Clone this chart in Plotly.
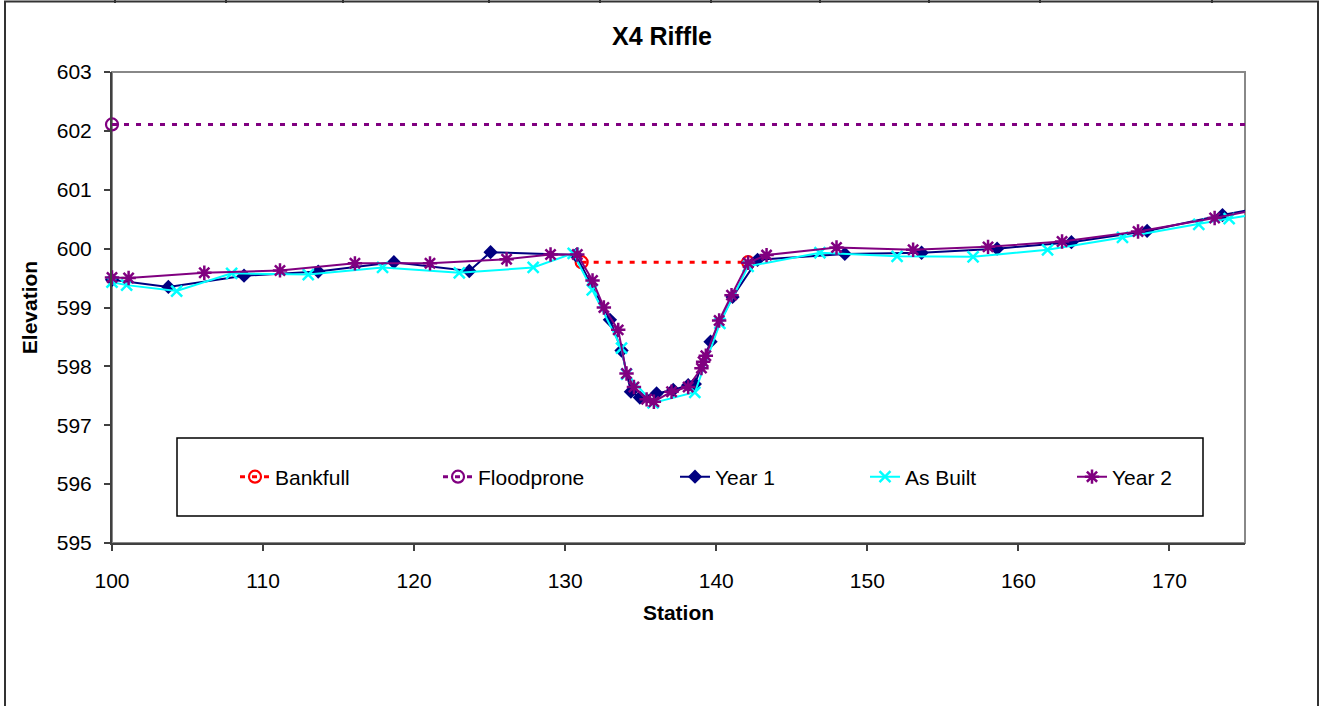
import plotly.graph_objects as go

# ---------------- data ----------------
bankfull_x = [131.09, 142.11]
bankfull_y = [599.77, 599.77]

floodprone_x = [100.0, 176.5]
floodprone_y = [602.11, 602.11]

year1_x = [100.0, 103.73, 108.74, 113.65, 118.66, 123.65, 125.06, 130.7, 132.96, 133.73,
           134.35, 134.94, 136.05, 137.15, 138.14, 138.58, 139.62, 141.08, 142.73, 148.51,
           153.59, 158.59, 163.51, 168.52, 173.51, 176.5]
year1_y = [599.47, 599.35, 599.54, 599.61, 599.77, 599.62, 599.94, 599.89, 598.79, 598.27,
           597.57, 597.47, 597.54, 597.60, 597.68, 597.70, 598.42, 599.18, 599.81, 599.91,
           599.93, 600.00, 600.11, 600.30, 600.57, 600.72]

asbuilt_x = [100.0, 100.97, 104.28, 107.92, 112.99, 117.91, 122.99, 127.88, 130.53, 131.79,
             133.73, 134.06, 135.82, 138.58, 140.24, 142.11, 146.86, 151.97, 157.0, 161.93,
             166.89, 171.94, 173.95, 176.5]
asbuilt_y = [599.43, 599.38, 599.28, 599.58, 599.56, 599.68, 599.59, 599.68, 599.92, 599.30,
             598.31, 597.87, 597.38, 597.56, 598.73, 599.70, 599.93, 599.87, 599.86, 599.98,
             600.19, 600.41, 600.51, 600.62]

year2_x = [100.0, 101.1, 106.11, 111.12, 116.08, 121.05, 126.12, 129.03, 130.8, 131.81,
           132.56, 133.51, 134.06, 134.55, 135.39, 135.87, 137.04, 138.14, 139.02, 139.13,
           139.31, 140.19, 141.01, 142.11, 143.33, 147.96, 153.03, 157.99, 162.89, 167.92,
           172.99, 176.5]
year2_y = [599.51, 599.50, 599.59, 599.63, 599.75, 599.75, 599.82, 599.90, 599.90, 599.46,
           599.00, 598.62, 597.88, 597.65, 597.44, 597.40, 597.57, 597.65, 597.97, 598.08,
           598.18, 598.78, 599.21, 599.76, 599.89, 600.02, 599.98, 600.03, 600.12, 600.29,
           600.52, 600.70]

x_ticks = [100, 110, 120, 130, 140, 150, 160, 170]
y_ticks = [595, 596, 597, 598, 599, 600, 601, 602, 603]
X_MAX = 175
FONT = "Liberation Sans, Arial, sans-serif"

series = [
    dict(name="Bankfull", x=bankfull_x, y=bankfull_y, color="#FF0000",
         dash="5px,7px", width=3, symbol="circle-open", size=12, lw=2.2, legendwidth=158),
    dict(name="Floodprone", x=floodprone_x, y=floodprone_y, color="#800080",
         dash="5px,7px", width=3, symbol="circle-open", size=12, lw=2.2, legendwidth=192),
    dict(name="Year 1", x=year1_x, y=year1_y, color="#000080",
         dash="solid", width=2, symbol="diamond", size=11, lw=0, legendwidth=145),
    dict(name="As Built", x=asbuilt_x, y=asbuilt_y, color="#00FFFF",
         dash="solid", width=2, symbol="x-thin-open", size=11, lw=2.5, legendwidth=162),
    dict(name="Year 2", x=year2_x, y=year2_y, color="#800080",
         dash="solid", width=2, symbol="asterisk-open", size=12, lw=2.5, legendwidth=80),
]

fig = go.Figure()
for s in series:
    xs, ys = s["x"], s["y"]
    inx = [a for a in xs if a <= X_MAX]
    iny = [b for a, b in zip(xs, ys) if a <= X_MAX]
    n = len(inx)
    # visible in-range part with markers (markers not clipped at the axes)
    fig.add_trace(go.Scatter(
        x=inx, y=iny, mode="lines+markers", name=s["name"],
        line=dict(color=s["color"], width=s["width"], dash=s["dash"]),
        marker=dict(symbol=s["symbol"], size=s["size"], color=s["color"],
                    line=dict(color=s["color"], width=s["lw"])),
        cliponaxis=False, legendwidth=s["legendwidth"],
    ))
    # continuation beyond the right edge of the axis (line only, clipped)
    if n < len(xs):
        fig.add_trace(go.Scatter(
            x=xs[n - 1:], y=ys[n - 1:], mode="lines", showlegend=False,
            line=dict(color=s["color"], width=s["width"], dash=s["dash"]),
            hoverinfo="skip",
        ))

L, R, T, B = 112, 77, 72, 163
W, H = 1322, 706
pw, ph = W - L - R, H - T - B


def px_x(p):
    return (p - L) / pw


def px_y(p):
    return (H - B - p) / ph


shapes = [
    # plot area frame (grey), axis lines drawn on top in dark
    dict(type="rect", xref="x domain", yref="y domain", x0=0, x1=1, y0=0, y1=1,
         line=dict(color="#888888", width=2), layer="below"),
    # legend frame
    dict(type="rect", xref="paper", yref="paper",
         x0=px_x(177), x1=px_x(1203), y0=px_y(516), y1=px_y(438),
         line=dict(color="#000000", width=1.5), fillcolor="rgba(0,0,0,0)", layer="below"),
    # outer chart frame
    dict(type="rect", xref="paper", yref="paper",
         x0=px_x(5), x1=px_x(1318), y0=px_y(720), y1=px_y(1.5),
         line=dict(color="#333333", width=2), layer="below"),
]
for cx in [115, 226, 343, 489, 600, 711, 820, 929, 1040, 1212]:
    shapes.append(dict(type="line", xref="paper", yref="paper",
                       x0=px_x(cx), x1=px_x(cx), y0=px_y(0), y1=px_y(3),
                       line=dict(color="#333333", width=2)))

fig.update_layout(
    width=W, height=H,
    margin=dict(l=L, r=R, t=T, b=B, autoexpand=False),
    paper_bgcolor="white", plot_bgcolor="white",
    font=dict(family=FONT, size=21, color="#000000"),
    title=dict(text="<b>X4 Riffle</b>", x=662 / W, xanchor="center",
               y=1 - 36 / H, yanchor="middle",
               font=dict(family=FONT, size=25, color="#000000")),
    xaxis=dict(range=[100, X_MAX], tickvals=x_ticks, ticktext=[str(v) for v in x_ticks],
               showgrid=False, zeroline=False, showline=True, linecolor="#404040",
               linewidth=2, ticks="outside", ticklen=6, tickwidth=1.5, tickcolor="#404040",
               tickfont=dict(family=FONT, size=21), ticklabelstandoff=12,
               title=dict(text="<b>Station</b>", standoff=14,
                          font=dict(family=FONT, size=21))),
    yaxis=dict(range=[595, 603], tickvals=y_ticks, ticktext=[str(v) for v in y_ticks],
               showgrid=False, zeroline=False, showline=True, linecolor="#404040",
               linewidth=2, ticks="outside", ticklen=6, tickwidth=1.5, tickcolor="#404040",
               tickfont=dict(family=FONT, size=21), ticklabelstandoff=8,
               title=dict(text="<b>Elevation</b>", standoff=13,
                          font=dict(family=FONT, size=21))),
    legend=dict(orientation="h", x=px_x(235), xanchor="left", y=px_y(477),
                yanchor="middle", bgcolor="rgba(0,0,0,0)", borderwidth=0,
                font=dict(family=FONT, size=21), itemwidth=30, tracegroupgap=0),
    shapes=shapes,
    showlegend=True,
)

fig.write_html("out.html")
